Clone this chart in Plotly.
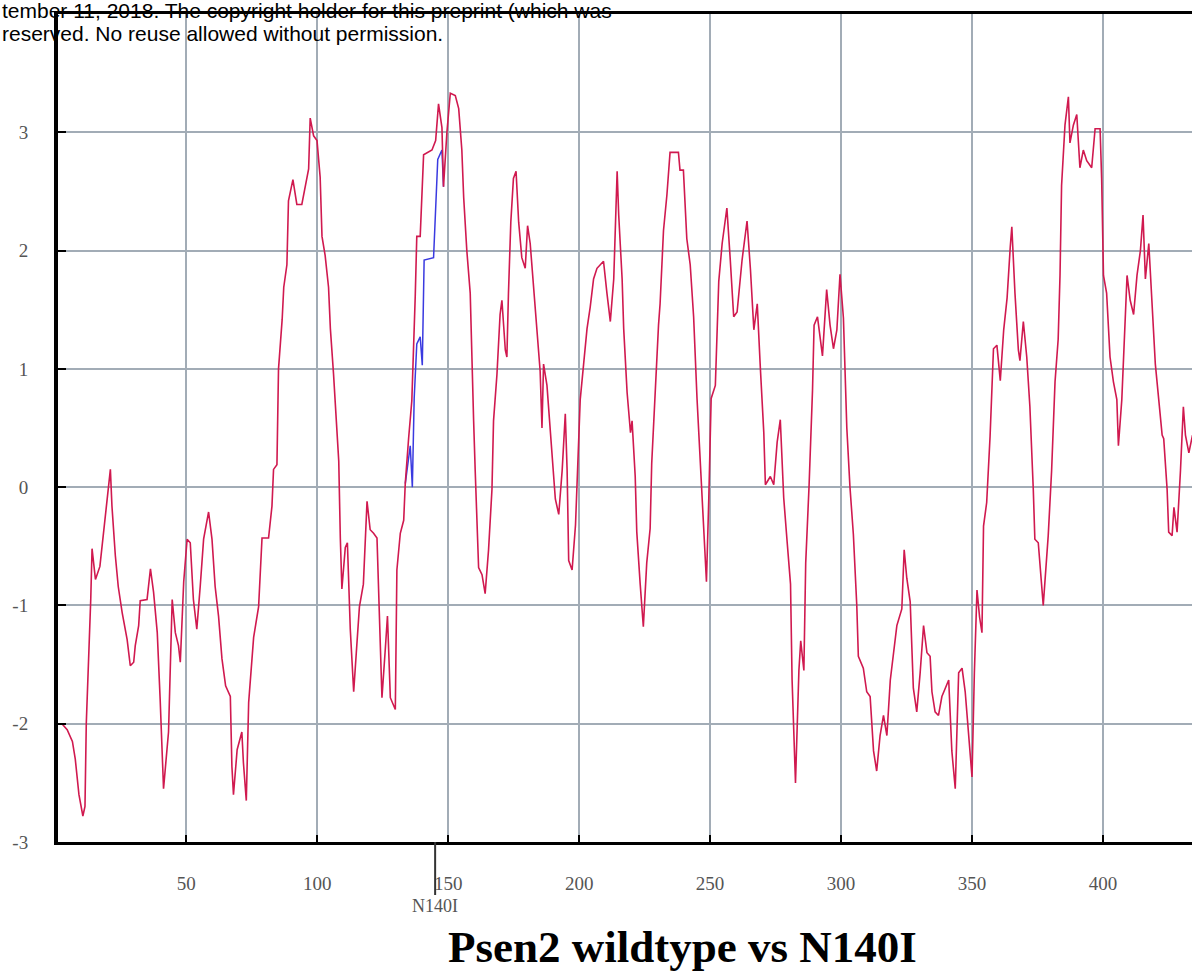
import plotly.graph_objects as go

# Residue positions and hydropathy values (wildtype, red)
wt_x = [1, 2.5, 4.5, 6.5, 7.6, 9, 10.5, 11.3, 11.8, 12.6, 13.5, 14, 15.3, 17, 18.4, 19.8, 21, 21.6, 22.9, 24,
        25.5, 27.4, 28.6, 29.9, 30.5, 31.8, 32.4, 35, 36.3, 37.5, 38.9, 40, 41.3, 43.2, 44, 44.6, 45.8, 47, 47.7, 48.3,
        49, 50.3, 51.5, 52.7, 54, 55.3, 56.6, 58.5, 59.8, 61, 62.3, 63.6, 65, 66.8, 67.4, 68, 69.4, 71.2, 71.8, 72.9,
        73.8, 75.7, 77.6, 78.9, 81.4, 82.7, 83.3, 84.6, 85.2, 86.6, 87.2, 88.4, 89, 90.7, 92.2, 94.1, 95.4, 96.7, 97.3, 98.6,
        99.9, 101.1, 101.8, 103, 104.3, 105, 106.2, 107.6, 108.2, 108.8, 109.4, 110.7, 111.5, 112.6, 113.9, 114.9, 116.1, 117.6, 119, 120.2,
        121.5, 122.8, 124, 124.7, 126, 126.8, 127.9, 129.8, 130.4, 131.7, 133, 133.6, 134.9, 136.1, 137.4, 138, 139.3, 140.6, 143.8, 145.2,
        146.3, 147.6, 148.2, 149.5, 150.8, 152.7, 154, 155.2, 155.9, 157.1, 158.4, 159, 159.7, 160.3, 160.9, 161.6, 162.9, 164.1, 165.4, 166.7,
        167.3, 168.6, 169.8, 170.5, 171.8, 172.4, 173, 173.9, 174.9, 175.9, 176.9, 178.1, 179.4, 180.3, 181.3, 182.6, 183.8, 185.1, 185.8, 186.4,
        187.7, 189, 190.2, 190.9, 192.2, 193.5, 194.7, 195.4, 196, 197.3, 198.6, 199.5, 200.4, 201.7, 203, 204.2, 205.5, 206.8, 209.3, 210.6,
        211.9, 213.2, 214.5, 215.1, 216.4, 217, 218.3, 219.6, 220.2, 221.4, 222, 223.3, 224.5, 225.8, 227.1, 227.7, 229, 230.3, 230.9, 232.2,
        233.5, 234.7, 237.9, 238.5, 239.8, 241.1, 242.4, 243.7, 245, 246.2, 247.5, 248.6, 249.5, 250.4, 252, 253.3, 254.6, 256.4, 257.7, 259,
        260.3, 262.2, 264.1, 265.4, 266.7, 268, 269.2, 270.5, 271.1, 273, 274.3, 275.6, 276.8, 278.1, 279.4, 280.7, 281.3, 281.9, 282.6, 283.9,
        284.6, 285.8, 286.5, 287.8, 289.1, 289.7, 291, 292.9, 294.5, 295.8, 297.1, 298.4, 299.6, 300.9, 301.5, 302.2, 303.4, 304.7, 306, 306.6,
        308.5, 309.8, 311.1, 312.4, 313.6, 314.9, 316.2, 317.5, 318.8, 320, 321.3, 323.2, 324.1, 325.1, 326.4, 327.6, 328.9, 330.2, 331.5, 332.8,
        334, 334.7, 335.9, 337.2, 338.5, 339.8, 341.1, 342.3, 343.6, 344.9, 346.2, 347.4, 348.7, 350, 350.9, 351.9, 352.9, 353.8, 354.4, 355.6,
        356.9, 357.6, 358.2, 359.5, 360.8, 362.1, 363.4, 364.6, 365.2, 366.4, 367.7, 368.3, 369.6, 370.9, 372.1, 373.4, 374, 375.3, 377.2, 379.1,
        380.4, 381.7, 382.9, 383.6, 384.2, 385.5, 386.8, 387.4, 388.7, 390, 391.2, 392.5, 393.8, 395.7, 397, 398.9, 399.5, 400.2, 401.4, 402.7,
        404, 405.3, 405.9, 407.2, 408.5, 409.2, 410.4, 411.7, 413, 414.3, 415.3, 416.2, 417.5, 418.8, 420, 421.3, 422.6, 423.2, 424.5, 425.1,
        426.4, 427.1, 428.3, 429.6, 430.7, 431.5, 432.8, 434.2]
wt_y = [-2.0, -2.0, -2.05, -2.15, -2.3, -2.6, -2.78, -2.7, -2.0, -1.57, -0.95, -0.52, -0.78, -0.67, -0.38, -0.1, 0.15, -0.16, -0.58, -0.84,
        -1.06, -1.29, -1.51, -1.48, -1.34, -1.17, -0.96, -0.95, -0.69, -0.89, -1.23, -1.79, -2.55, -2.07, -1.4, -0.95, -1.23, -1.34, -1.48, -1.09,
        -0.8, -0.44, -0.47, -0.95, -1.2, -0.84, -0.44, -0.21, -0.44, -0.84, -1.09, -1.45, -1.68, -1.77, -2.36, -2.6, -2.22, -2.07, -2.33, -2.65,
        -1.82, -1.27, -1.01, -0.43, -0.43, -0.16, 0.15, 0.19, 1.0, 1.42, 1.69, 1.88, 2.42, 2.6, 2.39, 2.39, 2.54, 2.69, 3.12, 2.97,
        2.93, 2.62, 2.12, 1.96, 1.69, 1.34, 0.96, 0.42, 0.22, -0.43, -0.86, -0.51, -0.47, -1.2, -1.73, -1.4, -1.01, -0.82, -0.12, -0.36,
        -0.39, -0.43, -1.2, -1.78, -1.36, -1.09, -1.78, -1.88, -0.7, -0.39, -0.28, 0.03, 0.42, 0.73, 1.61, 2.12, 2.12, 2.81, 2.85, 2.93,
        3.24, 3.04, 2.54, 3.0, 3.33, 3.31, 3.2, 2.85, 2.45, 2.0, 1.64, 1.04, 0.56, 0.14, -0.32, -0.68, -0.74, -0.9, -0.53, -0.02,
        0.56, 0.95, 1.46, 1.58, 1.16, 1.1, 1.64, 2.24, 2.61, 2.67, 2.24, 1.94, 1.85, 2.21, 2.06, 1.7, 1.34, 0.98, 0.5, 1.04,
        0.86, 0.44, 0.14, -0.1, -0.23, 0.14, 0.62, 0.14, -0.62, -0.7, -0.32, 0.29, 0.74, 1.04, 1.34, 1.52, 1.76, 1.85, 1.91, 1.64,
        1.4, 1.76, 2.67, 2.3, 1.76, 1.34, 0.8, 0.46, 0.56, 0.09, -0.38, -0.82, -1.18, -0.64, -0.35, 0.2, 0.82, 1.37, 1.55, 2.17,
        2.47, 2.83, 2.83, 2.68, 2.68, 2.1, 1.88, 1.44, 0.75, 0.24, -0.27, -0.8, -0.09, 0.75, 0.86, 1.74, 2.06, 2.36, 1.92, 1.44,
        1.48, 1.92, 2.25, 1.84, 1.33, 1.55, 1.0, 0.46, 0.02, 0.09, 0.02, 0.38, 0.57, -0.09, -0.46, -0.82, -1.63, -2.1, -2.5, -1.55,
        -1.3, -1.55, -0.64, 0.02, 0.82, 1.37, 1.44, 1.11, 1.67, 1.37, 1.17, 1.33, 1.8, 1.43, 1.03, 0.5, 0.0, -0.4, -1.0, -1.43,
        -1.53, -1.73, -1.77, -2.23, -2.4, -2.1, -1.93, -2.1, -1.63, -1.4, -1.17, -1.03, -0.53, -0.77, -0.97, -1.7, -1.9, -1.57, -1.17, -1.4,
        -1.43, -1.73, -1.9, -1.93, -1.77, -1.7, -1.63, -2.23, -2.55, -1.57, -1.53, -1.73, -2.07, -2.45, -1.57, -0.87, -1.1, -1.23, -0.33, -0.13,
        0.43, 0.93, 1.17, 1.2, 0.9, 1.33, 1.6, 2.03, 2.2, 1.64, 1.16, 1.07, 1.4, 1.1, 0.68, -0.02, -0.44, -0.47, -1.0, -0.41,
        0.14, 0.89, 1.25, 1.79, 2.55, 3.06, 3.3, 2.91, 3.06, 3.15, 2.7, 2.85, 2.76, 2.7, 3.03, 3.03, 2.61, 1.79, 1.64, 1.1,
        0.89, 0.74, 0.35, 0.74, 1.34, 1.79, 1.58, 1.46, 1.79, 2.0, 2.3, 1.76, 2.06, 1.49, 1.04, 0.74, 0.44, 0.41, -0.02, -0.38,
        -0.41, -0.17, -0.38, 0.14, 0.68, 0.44, 0.29, 0.44]

# Mutant N140I segment where it differs from wildtype (blue)
mut_x = [133.6, 135.5, 136.3, 137.0, 138.0, 139.3, 140.1, 140.8, 144.4, 145.1, 146.0, 147.6, 148.2]
mut_y = [0.03, 0.35, 0.0, 0.75, 1.21, 1.27, 1.03, 1.92, 1.94, 2.27, 2.77, 2.85, 2.54]

x_ticks = [50, 100, 150, 200, 250, 300, 350, 400]
y_ticks = [-3, -2, -1, 0, 1, 2, 3]
mutation_pos = 145
mutation_label = "N140I"
title_text = "Psen2 wildtype vs N140I"
header_lines = ["tember 11, 2018. The copyright holder for this preprint (which was",
                "reserved. No reuse allowed without permission."]

fig = go.Figure()
fig.add_trace(go.Scatter(x=mut_x, y=mut_y, mode="lines",
                         line=dict(color="#3a3ae0", width=1.5), hoverinfo="skip"))
fig.add_trace(go.Scatter(x=wt_x, y=wt_y, mode="lines",
                         line=dict(color="#d0194f", width=1.6), hoverinfo="skip"))

serif = "Liberation Serif, Times New Roman, serif"
fig.update_layout(
    width=1192, height=972,
    margin=dict(l=58, r=0, t=14, b=130),
    paper_bgcolor="white", plot_bgcolor="white",
    showlegend=False,
    xaxis=dict(range=[1, 434], tickvals=x_ticks, ticktext=[str(v) for v in x_ticks],
               showgrid=True, gridcolor="#a2acb6", gridwidth=2,
               showline=True, linecolor="black", linewidth=3, mirror=True,
               ticks="inside", ticklen=7, tickwidth=2, tickcolor="black",
               ticklabelstandoff=22,
               tickfont=dict(family=serif, size=19, color="#555"), zeroline=False),
    yaxis=dict(range=[-3, 4], tickvals=y_ticks, ticktext=[str(v) for v in y_ticks],
               showgrid=True, gridcolor="#a2acb6", gridwidth=2,
               showline=True, linecolor="black", linewidth=4,
               ticks="inside", ticklen=8, tickwidth=2, tickcolor="black",
               ticklabelstandoff=22,
               tickfont=dict(family=serif, size=19, color="#555"), zeroline=False),
)

fig.add_shape(type="line", xref="x", yref="paper", x0=mutation_pos, x1=mutation_pos,
              y0=0, y1=-0.064, line=dict(color="#333", width=2))
fig.add_annotation(x=mutation_pos, y=-0.0775, xref="x", yref="paper", text=mutation_label,
                   showarrow=False, font=dict(family=serif, size=18, color="#555"),
                   xanchor="center", yanchor="middle")
fig.add_annotation(x=0.551, y=-0.1265, xref="paper", yref="paper", text="<b>" + title_text + "</b>",
                   showarrow=False, font=dict(family=serif, size=45, color="black"),
                   xanchor="center", yanchor="middle")
for i, line in enumerate(header_lines):
    fig.add_annotation(x=0, y=1, xref="paper", yref="paper", xshift=-58, yshift=14 - 10 - 23 * i,
                       text=line, showarrow=False,
                       font=dict(family="Liberation Sans, Arial, sans-serif", size=21, color="black"),
                       xanchor="left", yanchor="middle")

fig.write_html("out.html")
